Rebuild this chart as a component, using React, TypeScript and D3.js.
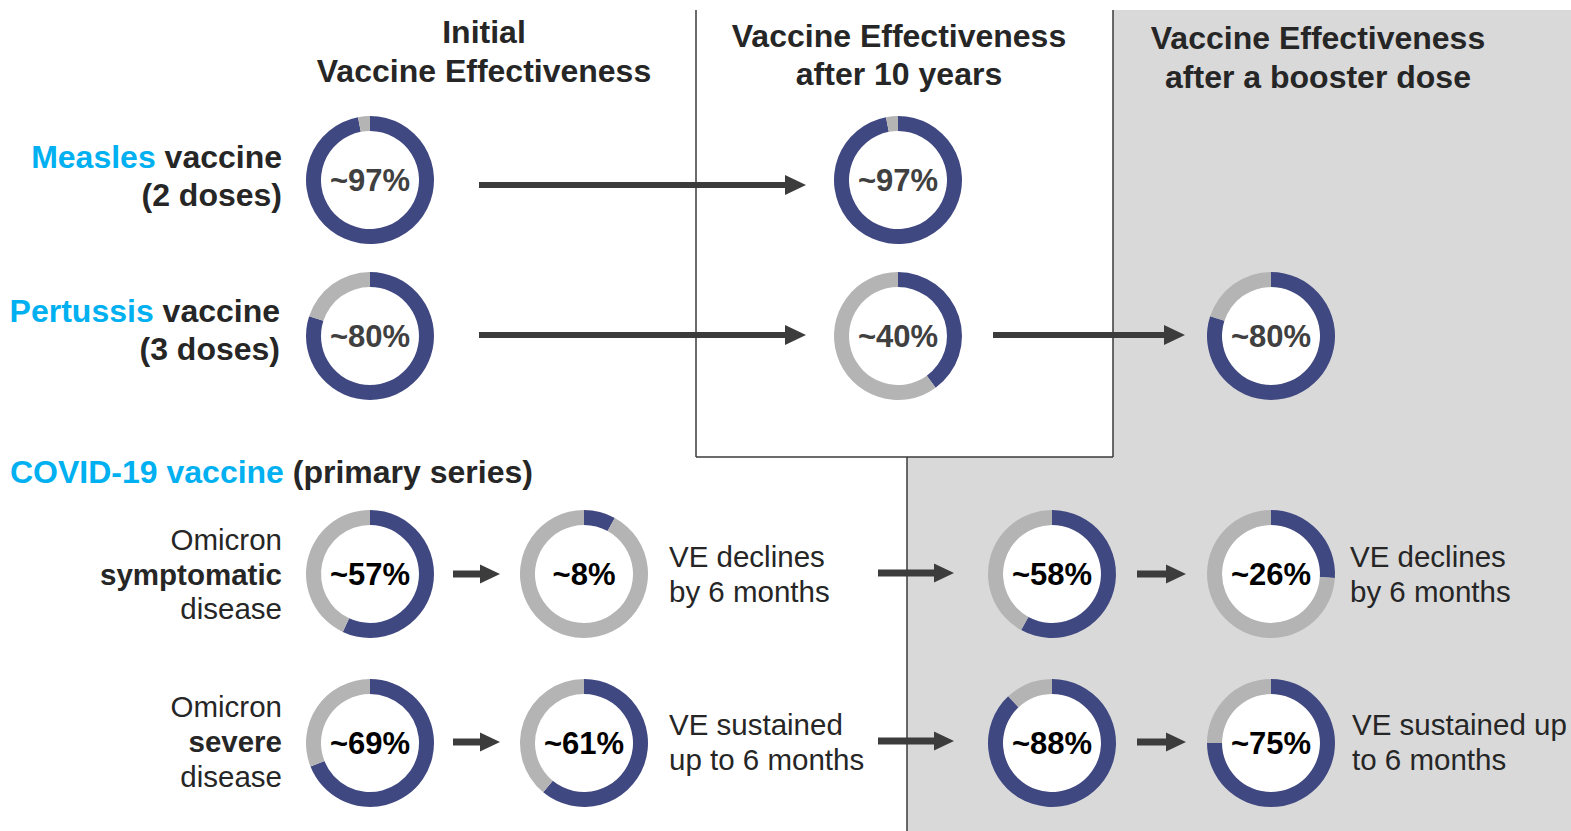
import React from "react";
import * as d3 from "d3";

// ---- data ----
const columnKeys = ["initial", "sixMonths", "tenYears", "booster", "boosterSixMonths"];
const rowKeys = ["measles", "pertussis", "symptomatic", "severe"];

const donutColumns = ["initial", "tenYears", "initial", "tenYears", "boosterSixMonths", "initial", "sixMonths", "booster", "boosterSixMonths", "initial", "sixMonths", "booster", "boosterSixMonths"];
const donutRows = ["measles", "measles", "pertussis", "pertussis", "pertussis", "symptomatic", "symptomatic", "symptomatic", "symptomatic", "severe", "severe", "severe", "severe"];
const donutValues = [97, 97, 80, 40, 80, 57, 8, 58, 26, 69, 61, 88, 75];
const donutLabels = ["~97%", "~97%", "~80%", "~40%", "~80%", "~57%", "~8%", "~58%", "~26%", "~69%", "~61%", "~88%", "~75%"];

const headerLines = [
  ["Initial", "Vaccine Effectiveness"],
  ["Vaccine Effectiveness", "after 10 years"],
  ["Vaccine Effectiveness", "after a booster dose"],
];

const noteLines = [
  ["VE declines", "by 6 months"],
  ["VE sustained", "up to 6 months"],
  ["VE declines", "by 6 months"],
  ["VE sustained up", "to 6 months"],
];

// ---- layout ----
const W = 1571;
const H = 831;
const NAVY = "#404882";
const RING_GRAY = "#b4b4b4";
const BG_GRAY = "#d9d9d9";
const TEXT = "#262626";
const CYAN = "#00b0f0";
const ARROW = "#3c3c3c";
const FONT = "'Liberation Sans', Arial, Helvetica, sans-serif";

const xCol = d3.scaleOrdinal<string, number>().domain(columnKeys).range([370, 584, 898, 1052, 1271]);
const yRow = d3.scaleOrdinal<string, number>().domain(rowKeys).range([180, 336, 574, 743]);

const outerR = 64;
const innerR = 49;

const pie = d3.pie<number>().sort(null).value((d) => d);
const arc = d3.arc<d3.PieArcDatum<number>>().innerRadius(innerR).outerRadius(outerR);

function Arrow({ x1, x2, y, shaft, headL, headW }: { x1: number; x2: number; y: number; shaft: number; headL: number; headW: number }) {
  const xb = x2 - headL;
  const p = d3.path();
  p.moveTo(x1, y - shaft / 2);
  p.lineTo(xb, y - shaft / 2);
  p.lineTo(xb, y - headW / 2);
  p.lineTo(x2, y);
  p.lineTo(xb, y + headW / 2);
  p.lineTo(xb, y + shaft / 2);
  p.lineTo(x1, y + shaft / 2);
  p.closePath();
  return <path d={p.toString()} fill={ARROW} />;
}

export default function App() {
  const bg = d3.path();
  bg.moveTo(1113, 10);
  bg.lineTo(W, 10);
  bg.lineTo(W, H);
  bg.lineTo(907, H);
  bg.lineTo(907, 457);
  bg.lineTo(1113, 457);
  bg.closePath();

  const arrows = [
    { x1: 479, x2: 806, y: 185, shaft: 6, headL: 21, headW: 20 },
    { x1: 479, x2: 806, y: 335, shaft: 6, headL: 21, headW: 20 },
    { x1: 993, x2: 1185, y: 335, shaft: 6, headL: 21, headW: 20 },
    { x1: 453, x2: 500, y: 574, shaft: 7, headL: 20, headW: 19 },
    { x1: 878, x2: 954, y: 573, shaft: 7, headL: 20, headW: 19 },
    { x1: 1137, x2: 1186, y: 574, shaft: 7, headL: 20, headW: 19 },
    { x1: 453, x2: 500, y: 742, shaft: 7, headL: 20, headW: 19 },
    { x1: 878, x2: 954, y: 741, shaft: 7, headL: 20, headW: 19 },
    { x1: 1137, x2: 1186, y: 742, shaft: 7, headL: 20, headW: 19 },
  ];

  const headerX = [484, 899, 1318];
  const headerY = [[43, 82], [47, 85], [49, 88]];

  const notePos = [
    { x: 669, y: 567 },
    { x: 669, y: 735 },
    { x: 1350, y: 567 },
    { x: 1352, y: 735 },
  ];

  return (
    <div style={{ position: "absolute", left: 0, top: 0 }}>
      <svg width={W} height={H} style={{ display: "block", background: "#fff" }} fontFamily={FONT}>
        <path d={bg.toString()} fill={BG_GRAY} />
        <g stroke="#3a3a3a" strokeWidth={1.5} fill="none">
          <line x1={696} y1={10} x2={696} y2={457} />
          <line x1={696} y1={457} x2={1113} y2={457} />
          <line x1={1113} y1={10} x2={1113} y2={457} />
          <line x1={907} y1={457} x2={907} y2={H} />
        </g>

        {headerLines.map((lines, i) => (
          <text key={i} x={headerX[i]} textAnchor="middle" fontWeight="bold" fontSize={32} fill={TEXT}>
            {lines.map((l, j) => (
              <tspan key={j} x={headerX[i]} y={headerY[i][j]}>{l}</tspan>
            ))}
          </text>
        ))}

        {/* row labels */}
        <g fontWeight="bold" fontSize={32} fill={TEXT} textAnchor="end">
          <text x={282} y={168}><tspan fill={CYAN}>Measles</tspan> vaccine</text>
          <text x={282} y={206}>(2 doses)</text>
          <text x={280} y={322}><tspan fill={CYAN}>Pertussis</tspan> vaccine</text>
          <text x={280} y={360}>(3 doses)</text>
        </g>
        <text x={10} y={483} fontWeight="bold" fontSize={32} fill={TEXT}>
          <tspan fill={CYAN}>COVID-19 vaccine</tspan> (primary series)
        </text>
        <g fontSize={29.5} fill={TEXT} textAnchor="end">
          <text x={282} y={550}>Omicron</text>
          <text x={282} y={585} fontWeight="bold">symptomatic</text>
          <text x={282} y={619}>disease</text>
          <text x={282} y={717}>Omicron</text>
          <text x={282} y={752} fontWeight="bold">severe</text>
          <text x={282} y={787}>disease</text>
        </g>

        {noteLines.map((lines, i) => (
          <text key={i} fontSize={29.5} fill={TEXT}>
            {lines.map((l, j) => (
              <tspan key={j} x={notePos[i].x} y={notePos[i].y + j * 35}>{l}</tspan>
            ))}
          </text>
        ))}

        {arrows.map((a, i) => (
          <Arrow key={i} {...a} />
        ))}

        {donutValues.map((v, i) => {
          const cx = xCol(donutColumns[i]);
          const cy = yRow(donutRows[i]);
          const arcs = pie([v, 100 - v]);
          const isCovid = donutRows[i] === "symptomatic" || donutRows[i] === "severe";
          return (
            <g key={i} transform={`translate(${cx},${cy})`}>
              <circle r={innerR} fill="#fff" />
              {arcs.map((a, j) => (
                <path key={j} d={arc(a) || ""} fill={j === 0 ? NAVY : RING_GRAY} />
              ))}
              <text y={11} textAnchor="middle" fontWeight="bold" fontSize={31} fill={isCovid ? "#000" : "#404040"}>
                {donutLabels[i]}
              </text>
            </g>
          );
        })}
      </svg>
    </div>
  );
}
